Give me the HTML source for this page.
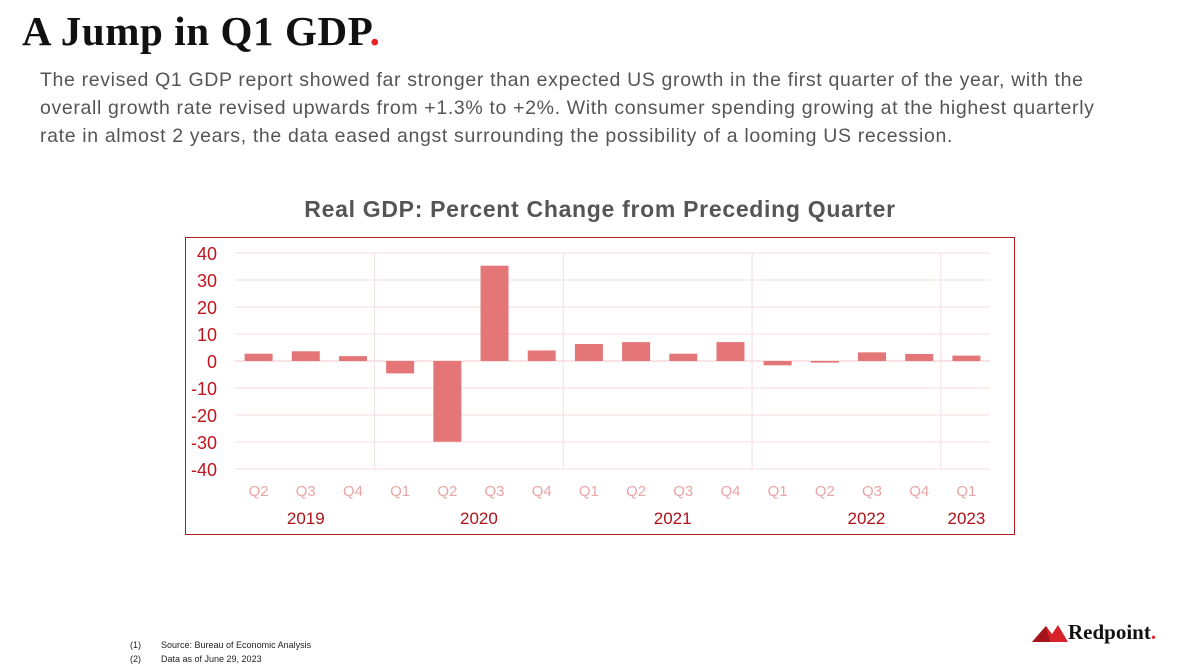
<!DOCTYPE html>
<html><head><meta charset="utf-8"><style>
body{margin:0;width:1200px;height:671px;background:#fff;position:relative;overflow:hidden;font-family:"Liberation Sans",sans-serif}
.h{position:absolute;left:22px;top:7px;font-family:"Liberation Serif",serif;font-weight:bold;font-size:41px;color:#111;letter-spacing:0.6px}
.p{position:absolute;left:40px;top:66px;font-size:19.5px;line-height:28px;color:#555;white-space:nowrap;letter-spacing:0.65px}
.fn{position:absolute;left:130px;font-size:9px;color:#222}
</style></head><body>
<div class="h">A Jump in Q1 GDP<span style="color:#e8202a">.</span></div>
<div class="p">The revised Q1 GDP report showed far stronger than expected US growth in the first quarter of the year, with the<br>overall growth rate revised upwards from +1.3% to +2%. With consumer spending growing at the highest quarterly<br>rate in almost 2 years, the data eased angst surrounding the possibility of a looming US recession.</div>
<svg id="chart" width="1200" height="671" style="position:absolute;left:0;top:0" font-family="Liberation Sans, sans-serif"></svg>
<div class="fn" style="top:640px">(1)&nbsp;&nbsp;&nbsp;&nbsp;&nbsp;&nbsp;&nbsp;&nbsp;Source: Bureau of Economic Analysis</div>
<div class="fn" style="top:654px">(2)&nbsp;&nbsp;&nbsp;&nbsp;&nbsp;&nbsp;&nbsp;&nbsp;Data as of June 29, 2023</div>
<div style="position:absolute;left:1030px;top:620px;width:170px;height:30px">
<svg width="40" height="22" style="position:absolute;left:0;top:2px"><polygon points="2,20 16,4 22,12 28,3 38,20" fill="#d8222a"/><polygon points="2,20 16,4 20,20" fill="#a3151b"/></svg>
<span style="position:absolute;left:38px;top:0;font-family:'Liberation Serif',serif;font-weight:bold;font-size:21px;color:#111">Redpoint<span style="color:#e8202a">.</span></span></div>
<script>
const quarters=["Q2","Q3","Q4","Q1","Q2","Q3","Q4","Q1","Q2","Q3","Q4","Q1","Q2","Q3","Q4","Q1"];
const values=[2.7,3.6,1.8,-4.6,-29.9,35.3,3.9,6.3,7.0,2.7,7.0,-1.6,-0.6,3.2,2.6,2.0];
const years=["2019","2020","2021","2022","2023"];
const yearStart=[0,3,7,11,15];
const yearEnd=[3,7,11,15,16];
const yTicks=[40,30,20,10,0,-10,-20,-30,-40];
const yearShift=[0,8,13,18,0];
const svg=document.getElementById('chart');const NS="http://www.w3.org/2000/svg";
function mk(t,a,txt){const e=document.createElementNS(NS,t);for(const k in a)e.setAttribute(k,a[k]);if(txt!=null)e.textContent=txt;svg.appendChild(e);return e;}
const x0=235,x1=990,bw=(x1-x0)/quarters.length;
const y=v=>361-v*2.7;const xc=i=>x0+bw*(i+0.5);
let e=mk('text',{x:600,y:217,'text-anchor':'middle','font-size':23,'font-weight':'bold',fill:'#555','letter-spacing':'0.7'},'Real GDP: Percent Change from Preceding Quarter');

e=mk('rect',{x:185.5,y:237.5,width:829,height:297,fill:'none',stroke:'#b01e24','stroke-width':1});

yTicks.forEach(t=>{
 e=mk('line',{x1:x0,x2:x1,y1:y(t),y2:y(t),stroke:t===0?'#f0c8c8':'#f6dede','stroke-width':1});
 
 e=mk('text',{x:217,y:y(t)+7,'text-anchor':'end','font-size':18,fill:'#c0141c'},String(t));
 
});
yearStart.forEach((s,i)=>{if(i>0){
 e=mk('line',{x1:x0+bw*s-2,x2:x0+bw*s-2,y1:y(40),y2:y(-40),stroke:'#f6dede'});
 }});
values.forEach((v,i)=>{
 e=mk('rect',{x:xc(i)-14,y:Math.min(y(v),y(0)),width:28,height:Math.abs(y(v)-y(0)),fill:'#e47677'});
 
 e=mk('text',{x:xc(i),y:496,'text-anchor':'middle','font-size':15,fill:'#eaa5a5'},quarters[i]);
 
});
years.forEach((yr,i)=>{
 const cx=x0+bw*(yearStart[i]+yearEnd[i])/2+yearShift[i];
 e=mk('text',{x:cx,y:524,'text-anchor':'middle','font-size':17,fill:'#b01218'},yr);
 
});
</script>
</body></html>
